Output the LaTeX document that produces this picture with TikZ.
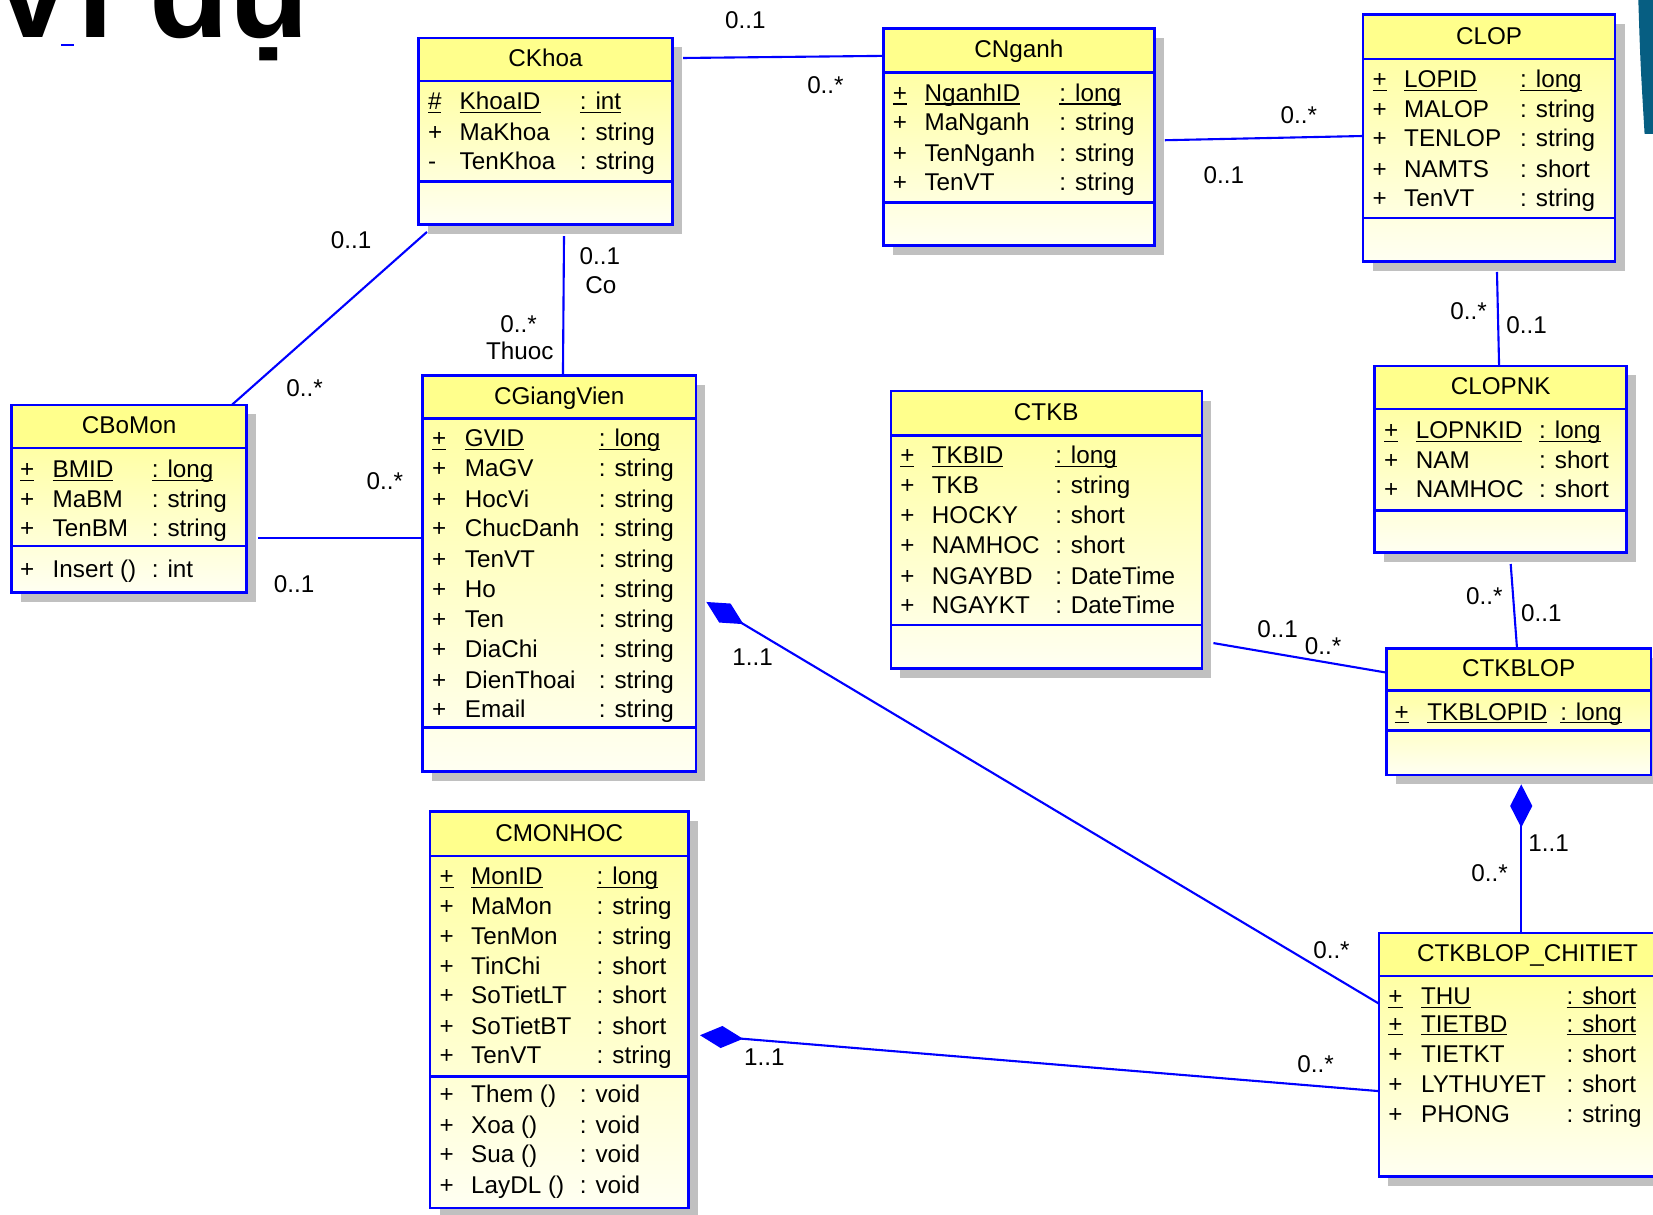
\documentclass[tikz,border=0pt]{standalone}
\usepackage{fontspec}
\setmainfont{Liberation Sans}
\usetikzlibrary{arrows.meta,calc}
\definecolor{umlblue}{RGB}{0,0,255}
\definecolor{hdryellow}{RGB}{255,255,140}
\definecolor{bodytop}{RGB}{255,255,165}
\definecolor{bodybot}{RGB}{255,255,242}
\definecolor{shadowgray}{RGB}{192,192,192}
\definecolor{slideteal}{RGB}{6,94,130}
\newcommand\ulx[1]{\leavevmode\setbox0\hbox{#1}\rlap{\rule[-1.6pt]{\wd0}{0.6pt}}\box0\relax}
\newcounter{txtc}
\tikzset{
  boxline/.style={draw=umlblue, line width=1.2pt},
  clsframe/.style={draw=umlblue, line width=1.2pt, rectangle, inner sep=0pt, outer sep=0pt, anchor=north west},
  umltxt/.style={inner sep=0pt, outer sep=0pt, font=\fontsize{11.5}{13}\selectfont},
  celltxt/.style={umltxt, anchor=base west},
  ctrtxt/.style={umltxt, anchor=base},
  assoc/.style={draw=umlblue, line width=1pt},
  comp/.style={assoc, {Diamond[length=20.5pt,width=10.5pt]}-},
}
\newcommand\umlclass[8]{%
  \fill[shadowgray] (#3+9,#4+9) rectangle (#5+9,#8+9);
  \fill[hdryellow] (#3,#4) rectangle (#5,#6);
  \shade[top color=bodytop,bottom color=bodybot] (#3,#6) rectangle (#5,#8);
  \draw[boxline] (#3,#6) -- (#5,#6) (#3,#7) -- (#5,#7);
  \node[clsframe, minimum width={(#5-#3)*0.5pt}, minimum height={(#8-#4)*0.5pt}] (#1) at (#3,#4) {};
  \node[ctrtxt] (#1-title) at ({(#3+#5)/2},{(#4+#6)/2+7}) {#2};
}
\newcommand\umlrow[7]{%
  \stepcounter{txtc}%
  \node[celltxt] (v\arabic{txtc}) at (#1,#4+8) {#5};
  \node[celltxt] (n\arabic{txtc}) at (#2,#4+8) {#6};
  \node[celltxt] (t\arabic{txtc}) at (#3,#4+8) {#7};
}
\begin{document}
\begin{tikzpicture}[x=0.5pt,y=-0.5pt]
\useasboundingbox (0,0) rectangle (1568,1152);

% slide decorations
\node[anchor=base west, inner sep=0pt, font=\fontsize{62}{62}\selectfont\bfseries] (title) at (-10,36) {Ví dụ};
\draw[umlblue, line width=1pt] (58,43) -- (70,43);
\fill[slideteal] (1554,-2) .. controls (1556,60) .. (1560,127) -- (1572,127) -- (1572,-2) -- cycle;

% classes
\umlclass{ckhoa}{CKhoa}{397}{36}{638}{77}{172}{213}
\umlrow{406}{436}{550}{96}{\ulx{\#}}{\ulx{KhoaID}}{\ulx{: int}}
\umlrow{406}{436}{550}{125}{+}{MaKhoa}{: string}
\umlrow{406}{436}{550}{153}{-}{TenKhoa}{: string}

\umlclass{cnganh}{CNganh}{838}{27}{1095}{69}{192}{233}
\umlrow{847}{877}{1005}{88}{\ulx{+}}{\ulx{NganhID}}{\ulx{: long}}
\umlrow{847}{877}{1005}{116}{+}{MaNganh}{: string}
\umlrow{847}{877}{1005}{145}{+}{TenNganh}{: string}
\umlrow{847}{877}{1005}{173}{+}{TenVT}{: string}

\umlclass{clop}{CLOP}{1293}{14}{1532}{56}{207}{248}
\umlrow{1302}{1332}{1442}{75}{\ulx{+}}{\ulx{LOPID}}{\ulx{: long}}
\umlrow{1302}{1332}{1442}{103}{+}{MALOP}{: string}
\umlrow{1302}{1332}{1442}{131}{+}{TENLOP}{: string}
\umlrow{1302}{1332}{1442}{160}{+}{NAMTS}{: short}
\umlrow{1302}{1332}{1442}{188}{+}{TenVT}{: string}

\umlclass{cbomon}{CBoMon}{11}{384}{234}{425}{518}{562}
\umlrow{19}{50}{144}{445}{\ulx{+}}{\ulx{BMID}}{\ulx{: long}}
\umlrow{19}{50}{144}{473}{+}{MaBM}{: string}
\umlrow{19}{50}{144}{501}{+}{TenBM}{: string}
\umlrow{19}{50}{144}{540}{+}{Insert ()}{: int}

\umlclass{cgv}{CGiangVien}{401}{356}{660}{397}{690}{732}
\umlrow{410}{441}{568}{416}{\ulx{+}}{\ulx{GVID}}{\ulx{: long}}
\umlrow{410}{441}{568}{444}{+}{MaGV}{: string}
\umlrow{410}{441}{568}{473}{+}{HocVi}{: string}
\umlrow{410}{441}{568}{501}{+}{ChucDanh}{: string}
\umlrow{410}{441}{568}{530}{+}{TenVT}{: string}
\umlrow{410}{441}{568}{559}{+}{Ho}{: string}
\umlrow{410}{441}{568}{587}{+}{Ten}{: string}
\umlrow{410}{441}{568}{616}{+}{DiaChi}{: string}
\umlrow{410}{441}{568}{645}{+}{DienThoai}{: string}
\umlrow{410}{441}{568}{673}{+}{Email}{: string}

\umlclass{ctkb}{CTKB}{845}{371}{1140}{413}{593}{634}
\umlrow{854}{884}{1001}{432}{\ulx{+}}{\ulx{TKBID}}{\ulx{: long}}
\umlrow{854}{884}{1001}{460}{+}{TKB}{: string}
\umlrow{854}{884}{1001}{489}{+}{HOCKY}{: short}
\umlrow{854}{884}{1001}{517}{+}{NAMHOC}{: short}
\umlrow{854}{884}{1001}{546}{+}{NGAYBD}{: DateTime}
\umlrow{854}{884}{1001}{574}{+}{NGAYKT}{: DateTime}

\umlclass{clopnk}{CLOPNK}{1304}{347}{1543}{388}{484}{524}
\umlrow{1313}{1343}{1460}{408}{\ulx{+}}{\ulx{LOPNKID}}{\ulx{: long}}
\umlrow{1313}{1343}{1460}{436}{+}{NAM}{: short}
\umlrow{1313}{1343}{1460}{464}{+}{NAMHOC}{: short}

\umlclass{ctkblop}{CTKBLOP}{1315}{615}{1566}{655}{693}{735}
\umlrow{1323}{1354}{1480}{675}{\ulx{+}}{\ulx{TKBLOPID}}{\ulx{: long}}

\umlclass{chitiet}{CTKBLOP\_CHITIET}{1308}{885}{1590}{926}{1116}{1116}
\umlrow{1317}{1348}{1486}{945}{\ulx{+}}{\ulx{THU}}{\ulx{: short}}
\umlrow{1317}{1348}{1486}{971}{\ulx{+}}{\ulx{TIETBD}}{\ulx{: short}}
\umlrow{1317}{1348}{1486}{1000}{+}{TIETKT}{: short}
\umlrow{1317}{1348}{1486}{1028}{+}{LYTHUYET}{: short}
\umlrow{1317}{1348}{1486}{1057}{+}{PHONG}{: string}

\umlclass{cmonhoc}{CMONHOC}{408}{770}{653}{812}{1021}{1146}
\umlrow{417}{447}{566}{831}{\ulx{+}}{\ulx{MonID}}{\ulx{: long}}
\umlrow{417}{447}{566}{859}{+}{MaMon}{: string}
\umlrow{417}{447}{566}{888}{+}{TenMon}{: string}
\umlrow{417}{447}{566}{916}{+}{TinChi}{: short}
\umlrow{417}{447}{566}{944}{+}{SoTietLT}{: short}
\umlrow{417}{447}{566}{973}{+}{SoTietBT}{: short}
\umlrow{417}{447}{566}{1001}{+}{TenVT}{: string}
\umlrow{417}{447}{550}{1038}{+}{Them ()}{: void}
\umlrow{417}{447}{550}{1067}{+}{Xoa ()}{: void}
\umlrow{417}{447}{550}{1095}{+}{Sua ()}{: void}
\umlrow{417}{447}{550}{1124}{+}{LayDL ()}{: void}

% connectors
\draw[assoc] ($(ckhoa.north east)+(10,19)$) -- ($(cnganh.north west)+(0,26)$);
\draw[assoc] ($(cnganh.north east)+(10,106)$) -- ($(clop.north west)+(0,115)$);
\draw[assoc] ($(ckhoa.south west)+(8,7)$) -- ($(cbomon.north east)+(-14,0)$);
\draw[assoc] ($(ckhoa.south west)+(138,11)$) -- ($(cgv.north west)+(133,0)$);
\draw[assoc] ($(cbomon.north east)+(11,126)$) -- ($(cgv.north west)+(0,154)$);
\draw[assoc] ($(clop.south west)+(127,10)$) -- ($(clopnk.north west)+(118,0)$);
\draw[assoc] ($(clopnk.south west)+(129,11)$) -- ($(ctkblop.north west)+(124,0)$);
\draw[assoc] ($(ctkb.north east)+(11,239)$) -- ($(ctkblop.north west)+(0,23)$);
\draw[comp] ($(ctkblop.south west)+(128,9)$) -- ($(chitiet.north west)+(135,0)$);
\draw[comp] ($(cgv.north east)+(10,215)$) -- ($(chitiet.north west)+(0,67)$);
\draw[comp] ($(cmonhoc.north east)+(11,212)$) -- ($(chitiet.north west)+(0,150)$);

% multiplicities and role names
\foreach \x/\y/\t [count=\i] in {
  707/19/{0..1}, 783/81/{0..*},
  1232/109/{0..*}, 1161/166/{0..1},
  333/228/{0..1}, 289/368/{0..*},
  569/243/{0..1}, 570/270/{Co}, 492/307/{0..*}, 493/333/{Thuoc},
  365/456/{0..*}, 279/554/{0..1},
  1393/295/{0..*}, 1448/308/{0..1},
  1408/565/{0..*}, 1462/582/{0..1},
  1212/597/{0..1}, 1255/613/{0..*},
  1469/800/{1..1}, 1413/828/{0..*},
  714/623/{1..1}, 1263/901/{0..*},
  725/1003/{1..1}, 1248/1009/{0..*}}
  \node[ctrtxt] (m\i) at (\x,\y+8) {\t};
\end{tikzpicture}
\end{document}
